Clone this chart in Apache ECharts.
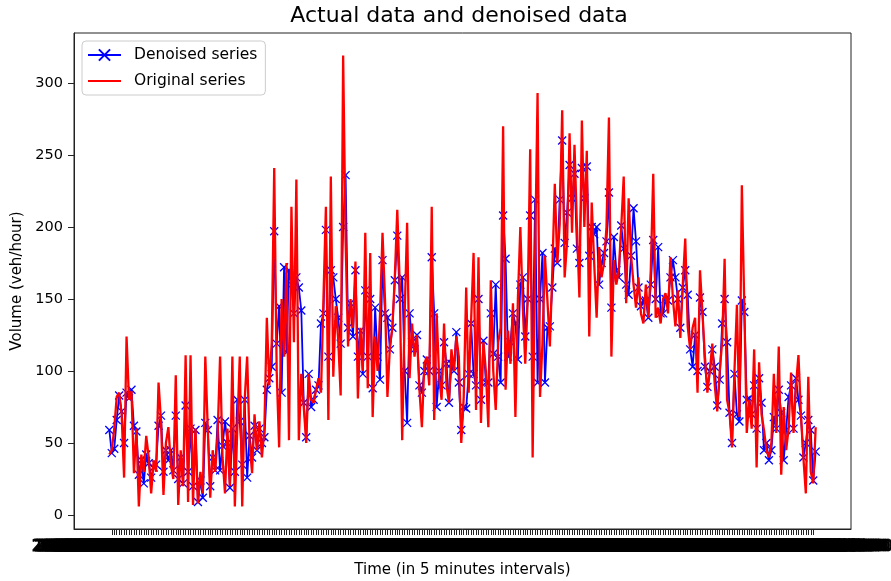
<!DOCTYPE html>
<html><head><meta charset="utf-8">
<script src="https://cdn.jsdelivr.net/npm/echarts@6/dist/echarts.min.js"></script>
<style>html,body{margin:0;padding:0;background:#fff}#c{width:891px;height:581px}</style>
</head><body><div id="c"></div>
<script>
const original = [
42, 45, 60, 82, 85, 70, 26, 124, 80, 86, 29, 60,
6, 42, 30, 55, 40, 15, 38, 30, 92, 65, 14, 50,
61, 35, 25, 97, 7, 45, 20, 111, 9, 111, 7, 60,
8, 30, 15, 110, 60, 12, 45, 30, 55, 110, 40, 15,
60, 20, 110, 6, 60, 110, 6, 80, 110, 50, 29, 70,
45, 65, 40, 60, 137, 90, 120, 241, 100, 47, 150, 110,
175, 52, 214, 120, 233, 52, 98, 75, 50, 98, 80, 78,
87, 95, 85, 150, 214, 66, 235, 96, 145, 122, 83, 319,
191, 117, 150, 130, 176, 81, 130, 100, 196, 88, 182, 68,
124, 100, 140, 196, 150, 82, 117, 130, 165, 212, 160, 52,
140, 203, 95, 133, 110, 125, 87, 61, 105, 110, 90, 214,
66, 140, 96, 80, 133, 90, 78, 115, 100, 124, 110, 50,
82, 158, 85, 135, 182, 73, 179, 64, 120, 100, 61, 163,
100, 73, 120, 130, 270, 87, 128, 105, 147, 68, 150, 200,
144, 105, 150, 254, 40, 180, 293, 82, 120, 180, 149, 117,
170, 230, 175, 202, 281, 165, 190, 265, 196, 257, 200, 151,
274, 200, 253, 124, 217, 175, 137, 186, 165, 175, 200, 276,
110, 177, 160, 170, 200, 235, 147, 220, 180, 160, 144, 165,
140, 133, 160, 137, 170, 237, 137, 144, 133, 150, 154, 140,
179, 150, 131, 156, 123, 160, 192, 131, 115, 130, 137, 85,
170, 140, 110, 85, 100, 119, 90, 72, 100, 120, 178, 80,
71, 47, 100, 146, 68, 229, 145, 57, 80, 60, 115, 33,
106, 70, 59, 45, 40, 50, 98, 57, 117, 28, 75, 45,
60, 99, 57, 90, 111, 70, 40, 15, 96, 30, 22, 61
];
const denoised = [
59, 43, 46, 66, 83, 72, 50, 85, 81, 87, 62, 58,
28, 38, 22, 42, 36, 26, 33, 35, 62, 69, 30, 45,
38, 45, 31, 69, 25, 40, 22, 76, 30, 60, 20, 59,
9, 24, 12, 64, 59, 20, 40, 31, 66, 31, 48, 65,
50, 19, 60, 30, 80, 65, 35, 80, 26, 55, 40, 62,
45, 60, 50, 54, 87, 95, 103, 197, 119, 145, 85, 172,
113, 170, 160, 140, 165, 158, 142, 78, 54, 98, 75, 80,
87, 90, 133, 140, 198, 110, 170, 165, 150, 137, 119, 200,
236, 130, 147, 124, 170, 110, 128, 98, 156, 110, 150, 88,
144, 110, 94, 177, 140, 137, 115, 130, 163, 194, 150, 165,
100, 64, 140, 120, 115, 125, 90, 85, 100, 108, 100, 179,
140, 75, 100, 90, 120, 105, 78, 105, 100, 127, 92, 59,
75, 74, 98, 133, 98, 90, 150, 80, 121, 92, 92, 140,
112, 160, 110, 92, 208, 178, 110, 120, 140, 133, 108, 160,
165, 124, 150, 208, 110, 219, 92, 150, 182, 92, 130, 131,
158, 185, 175, 219, 260, 189, 210, 243, 220, 237, 185, 175,
241, 220, 242, 180, 200, 195, 200, 160, 175, 182, 190, 224,
144, 193, 170, 165, 201, 185, 160, 153, 180, 213, 190, 158,
145, 149, 149, 137, 160, 191, 150, 186, 140, 140, 150, 149,
165, 177, 165, 150, 130, 158, 170, 153, 115, 103, 125, 100,
151, 141, 103, 89, 100, 115, 103, 76, 94, 133, 150, 120,
71, 50, 98, 70, 65, 149, 141, 80, 81, 70, 90, 60,
95, 78, 45, 50, 38, 45, 68, 60, 87, 71, 38, 59,
82, 90, 60, 95, 80, 69, 40, 50, 66, 59, 24, 44
];
const xIndex = original.map((_, i) => i);
const timeLabels = xIndex.map(i => {
  const m = i * 5;
  const hh = String(Math.floor(m / 60)).padStart(2, '0');
  const mm = String(m % 60).padStart(2, '0');
  return '2016-01-01 ' + hh + ':' + mm + ':00';
});
const yTicks = [0, 50, 100, 150, 200, 250, 300];
const F = 'DejaVu Sans';
const n = original.length - 1;
const chart = echarts.init(document.getElementById('c'), null, {renderer: 'canvas'});
chart.setOption({
  animation: false,
  backgroundColor: '#fff',
  title: {
    text: 'Actual data and denoised data', left: 459, top: 5, textAlign: 'center', padding: 0,
    textStyle: {fontFamily: F, fontSize: 22, fontWeight: 'normal', color: '#000'}
  },
  legend: {
    orient: 'vertical', left: 82, top: 41, padding: [6, 8, 6, 5],
    itemWidth: 33, itemHeight: 14, itemGap: 10,
    borderColor: '#cccccc', borderWidth: 1, borderRadius: 4,
    backgroundColor: 'rgba(255,255,255,0.8)',
    textStyle: {fontFamily: F, fontSize: 15.5, color: '#000', padding: [0, 0, 0, 8]},
    data: [
      {name: 'Denoised series'},
      {name: 'Original series', itemStyle: {opacity: 0}}
    ]
  },
  grid: {left: 74, right: 40, top: 33, bottom: 52, show: true, borderColor: '#222', borderWidth: 1,
         containLabel: false, outerBoundsMode: 'none'},
  xAxis: {
    type: 'value', min: -0.05 * n, max: n * 1.05,
    name: 'Time (in 5 minutes intervals)', nameLocation: 'middle', nameGap: 34,
    nameTextStyle: {fontFamily: F, fontSize: 15, color: '#000'},
    axisLine: {show: true, onZero: false, lineStyle: {color: '#222', width: 1}},
    axisTick: {show: true, customValues: xIndex, length: 6, lineStyle: {color: '#222', width: 1}},
    axisLabel: {show: true, customValues: xIndex, formatter: v => timeLabels[v] || '', hideOverlap: false,
                fontFamily: F, fontSize: 15, color: '#000', margin: 11,
                textBorderColor: '#000', textBorderWidth: 1.2},
    splitLine: {show: false}
  },
  yAxis: {
    type: 'value', min: -9.7, max: 334.7,
    name: 'Volume (veh/hour)', nameLocation: 'middle', nameGap: 46,
    nameTextStyle: {fontFamily: F, fontSize: 15, color: '#000'},
    axisLine: {show: true, onZero: false, lineStyle: {color: '#222', width: 1}},
    axisTick: {show: true, customValues: yTicks, length: 6, lineStyle: {color: '#222', width: 1}},
    axisLabel: {show: true, customValues: yTicks, fontFamily: F, fontSize: 14.5, color: '#000', margin: 11},
    splitLine: {show: false}
  },
  series: [
    {
      name: 'Denoised series', type: 'line', z: 2,
      data: denoised.map((v, i) => [i, v]),
      symbol: 'path://M0,0L10,10M0,10L10,0', symbolSize: 8, showSymbol: true, showAllSymbol: true,
      color: '#0000ff',
      lineStyle: {color: '#0000ff', width: 1.8},
      itemStyle: {color: '#0000ff', borderColor: '#0000ff', borderWidth: 1.3},
      emphasis: {disabled: true}
    },
    {
      name: 'Original series', type: 'line', z: 3,
      data: original.map((v, i) => [i, v]),
      symbol: 'none', showSymbol: false,
      color: '#ff0000',
      lineStyle: {color: '#ff0000', width: 2.3},
      itemStyle: {color: '#ff0000'},
      emphasis: {disabled: true}
    }
  ]
});
</script></body></html>
